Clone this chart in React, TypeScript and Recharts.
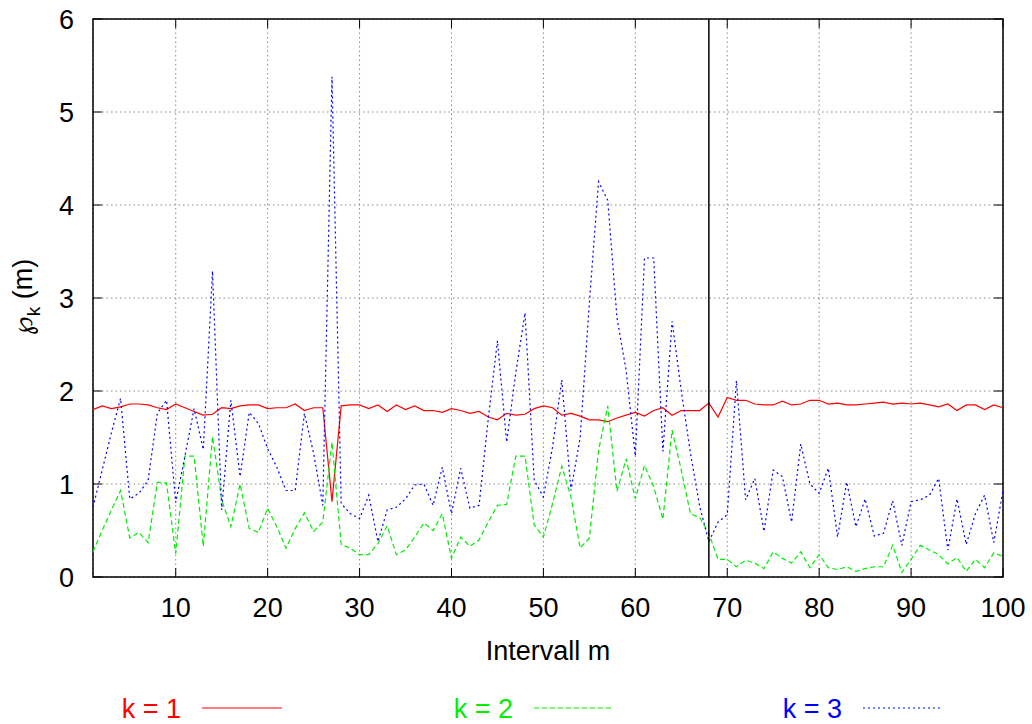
import {
  LineChart,
  Line,
  XAxis,
  YAxis,
  CartesianGrid,
  ReferenceLine,
  ReferenceArea,
  Legend,
} from 'recharts';

const k1 = [
  1.8, 1.84, 1.81, 1.83, 1.86, 1.86, 1.85, 1.82, 1.8, 1.86,
  1.82, 1.78, 1.74, 1.75, 1.82, 1.81, 1.84, 1.85, 1.85, 1.81,
  1.82, 1.82, 1.86, 1.79, 1.82, 1.82, 0.81, 1.84, 1.85, 1.85,
  1.81, 1.85, 1.78, 1.85, 1.8, 1.84, 1.79, 1.79, 1.77, 1.81,
  1.79, 1.76, 1.78, 1.72, 1.69, 1.76, 1.74, 1.75, 1.81, 1.84,
  1.82, 1.74, 1.76, 1.73, 1.69, 1.69, 1.67, 1.71, 1.74, 1.77,
  1.73, 1.79, 1.82, 1.74, 1.79, 1.79, 1.79, 1.87, 1.72, 1.93,
  1.9, 1.9, 1.86, 1.85, 1.85, 1.89, 1.85, 1.86, 1.9, 1.9,
  1.86, 1.87, 1.85, 1.85, 1.86, 1.87, 1.88, 1.86, 1.87, 1.86,
  1.87, 1.85, 1.83, 1.86, 1.79, 1.85, 1.85, 1.8, 1.85, 1.82,
];

const k2 = [
  0.27, 0.5, 0.72, 0.93, 0.42, 0.48, 0.37, 1.02, 1.01, 0.25,
  1.3, 1.3, 0.33, 1.51, 0.83, 0.54, 1.0, 0.52, 0.48, 0.74,
  0.54, 0.31, 0.52, 0.69, 0.49, 0.59, 1.45, 0.35, 0.31, 0.24,
  0.24, 0.36, 0.55, 0.24, 0.29, 0.43, 0.58, 0.5, 0.68, 0.2,
  0.43, 0.33, 0.4, 0.59, 0.77, 0.78, 1.3, 1.3, 0.56, 0.43,
  0.79, 1.19, 0.86, 0.31, 0.42, 1.36, 1.84, 0.92, 1.27, 0.84,
  1.2, 0.97, 0.62, 1.58, 1.15, 0.68, 0.64, 0.47, 0.19, 0.19,
  0.11, 0.18, 0.15, 0.09, 0.27, 0.2, 0.15, 0.27, 0.1, 0.24,
  0.1, 0.08, 0.11, 0.06, 0.09, 0.11, 0.11, 0.34, 0.05, 0.19,
  0.34, 0.29, 0.24, 0.14, 0.21, 0.06, 0.19, 0.1, 0.26, 0.22,
];

const k3 = [
  0.75, 1.15, 1.55, 1.92, 0.84, 0.9, 1.04, 1.76, 1.9, 0.8,
  1.3, 1.81, 1.37, 3.29, 0.72, 1.9, 1.08, 1.77, 1.65, 1.38,
  1.18, 0.93, 0.93, 1.76, 1.33, 0.77, 5.38, 0.79, 0.68, 0.63,
  0.88, 0.38, 0.72, 0.75, 0.84, 0.99, 1.0, 0.77, 1.18, 0.68,
  1.17, 0.74, 0.77, 1.7, 2.54, 1.45, 2.2, 2.84, 1.04, 0.86,
  1.4, 2.12, 0.93, 1.5, 2.95, 4.25, 4.05, 2.79, 2.22, 1.3,
  3.43, 3.43, 1.35, 2.75, 2.0, 1.33, 0.76, 0.38, 0.59, 0.67,
  2.11, 0.83, 1.06, 0.49, 1.15, 1.08, 0.59, 1.43, 1.0, 0.9,
  1.17, 0.43, 1.02, 0.54, 0.84, 0.44, 0.47, 0.82, 0.34, 0.81,
  0.83, 0.88, 1.06, 0.29, 0.84, 0.35, 0.68, 0.88, 0.37, 0.93,
];

const xTicks = [10, 20, 30, 40, 50, 60, 70, 80, 90, 100];
const yTicks = [0, 1, 2, 3, 4, 5, 6];
const markerM = 68;

const data = k1.map((v, i) => ({ m: i + 1, k1: v, k2: k2[i], k3: k3[i] }));

const FONT = 'Liberation Sans, Arial, Helvetica, sans-serif';
const PLOT_TOP = 19;
const PLOT_RIGHT = 1003;

const XTick = (props: any) => {
  const { x, y, payload } = props;
  return (
    <g>
      <line x1={x} y1={y} x2={x} y2={y - 9} stroke="#000" />
      <line x1={x} y1={PLOT_TOP} x2={x} y2={PLOT_TOP + 9} stroke="#000" />
      <text x={x} y={y + 40} textAnchor="middle" fontSize={27} fontFamily={FONT} fill="#000">
        {payload.value}
      </text>
    </g>
  );
};

const YTick = (props: any) => {
  const { x, y, payload } = props;
  return (
    <g>
      <line x1={x} y1={y} x2={x + 9} y2={y} stroke="#000" />
      <line x1={PLOT_RIGHT} y1={y} x2={PLOT_RIGHT - 9} y2={y} stroke="#000" />
      <text x={x - 19} y={y + 9.5} textAnchor="end" fontSize={27} fontFamily={FONT} fill="#000">
        {payload.value}
      </text>
    </g>
  );
};

const legendItems = [
  { label: 'k = 1', color: '#ff0000', dash: undefined, end: 181 },
  { label: 'k = 2', color: '#00ee00', dash: '5 3', end: 513 },
  { label: 'k = 3', color: '#0000ff', dash: '2 3', end: 842 },
];

const renderLegend = () => (
  <svg width={1032} height={34}>
    {legendItems.map((it) => (
      <g key={it.label}>
        <text x={it.end} y={28} textAnchor="end" fontSize={27} fontFamily={FONT} fill={it.color}>
          {it.label}
        </text>
        <line
          x1={it.end + 21}
          y1={18}
          x2={it.end + 101}
          y2={18}
          stroke={it.color}
          strokeWidth={1.2}
          strokeDasharray={it.dash}
        />
      </g>
    ))}
  </svg>
);

export default function App() {
  return (
    <div style={{ position: 'absolute', left: 0, top: 0, width: 1032, height: 724, background: '#fff' }}>
      <LineChart
        width={1032}
        height={724}
        data={data}
        margin={{ top: PLOT_TOP, right: 29, bottom: 87, left: 0 }}
      >
        <CartesianGrid stroke="#888" strokeDasharray="1.5 3" />
        <XAxis
          dataKey="m"
          type="number"
          domain={[1, 100]}
          ticks={xTicks}
          height={60}
          axisLine={false}
          tickLine={false}
          tickSize={0}
          tickMargin={0}
          tick={<XTick />}
          interval={0}
          label={(p: any) => {
            const vb = p.viewBox;
            return (
              <text
                x={vb.x + vb.width / 2}
                y={vb.y + 83}
                textAnchor="middle"
                fontSize={27}
                fontFamily={FONT}
                fill="#000"
              >
                Intervall m
              </text>
            );
          }}
        />
        <YAxis
          type="number"
          domain={[0, 6]}
          ticks={yTicks}
          width={93}
          axisLine={false}
          tickLine={false}
          tickSize={0}
          tickMargin={0}
          tick={<YTick />}
          interval={0}
          label={() => (
            <text
              x={32}
              y={297}
              transform="rotate(-90, 32, 297)"
              textAnchor="middle"
              fontSize={27}
              fontFamily={FONT}
              fill="#000"
            >
              <tspan fontFamily="DejaVu Sans">℘</tspan>
              <tspan dy={8} fontSize={19}>k</tspan>
              <tspan dy={-8}> (m)</tspan>
            </text>
          )}
        />
        <Legend
          verticalAlign="middle"
          layout="horizontal"
          content={renderLegend}
          wrapperStyle={{ left: 0, top: 690, width: 1032, height: 34 }}
        />
        <Line
          dataKey="k1"
          stroke="#ff0000"
          strokeWidth={1.2}
          dot={false}
          isAnimationActive={false}
          legendType="none"
        />
        <Line
          dataKey="k2"
          stroke="#00ee00"
          strokeWidth={1.2}
          strokeDasharray="5 3"
          dot={false}
          isAnimationActive={false}
        />
        <Line
          dataKey="k3"
          stroke="#0000ff"
          strokeWidth={1.2}
          strokeDasharray="2 3"
          dot={false}
          isAnimationActive={false}
        />
        <ReferenceLine x={markerM} stroke="#000" strokeWidth={1.5} />
        <ReferenceArea x1={1} x2={100} y1={0} y2={6} fill="none" stroke="#000" strokeWidth={1.5} />
      </LineChart>
    </div>
  );
}
